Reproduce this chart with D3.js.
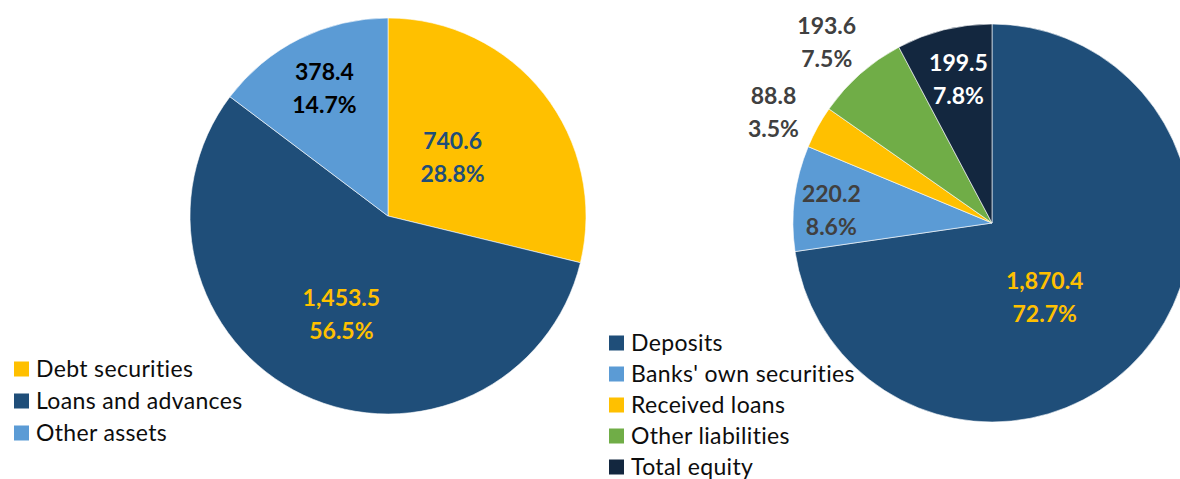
<!DOCTYPE html>
<html>
<head>
<meta charset="utf-8">
<script src="https://d3js.org/d3.v7.min.js"></script>
<style>
  html, body { margin: 0; padding: 0; background: #fff; }
  svg { display: block; font-family: Lato, "Open Sans", sans-serif; font-variant-ligatures: none; }
</style>
</head>
<body>
<div id="container"></div>
<script>
// assets pie
const assetNames  = ["Debt securities", "Loans and advances", "Other assets"];
const assetValues = [740.6, 1453.5, 378.4];
const assetPct    = ["28.8%", "56.5%", "14.7%"];

// liabilities pie
const liabNames  = ["Deposits", "Banks' own securities", "Received loans", "Other liabilities", "Total equity"];
const liabValues = [1870.4, 220.2, 88.8, 193.6, 199.5];
const liabPct    = ["72.7%", "8.6%", "3.5%", "7.5%", "7.8%"];

const colors = {
  "Debt securities": "#FFC000",
  "Loans and advances": "#1F4E79",
  "Other assets": "#5B9BD5",
  "Deposits": "#1F4E79",
  "Banks' own securities": "#5B9BD5",
  "Received loans": "#FFC000",
  "Other liabilities": "#70AD47",
  "Total equity": "#13273F"
};

const width = 1180, height = 479;
const fmt = d3.format(",.1f");

const svg = d3.select('#container').append('svg')
  .attr('width', width).attr('height', height);

// label placement: radius fraction, angle tweak (deg), text colour
function drawPie(cfg) {
  const data = cfg.names.map((n, i) => ({ name: n, value: cfg.values[i], pct: cfg.pct[i], i }));
  const pie = d3.pie().sort(null).value(d => d.value);
  const arc = d3.arc().innerRadius(0).outerRadius(cfg.r);
  const arcs = pie(data);

  const g = svg.append('g').attr('transform', `translate(${cfg.cx},${cfg.cy})`);
  g.selectAll('path').data(arcs).enter().append('path')
    .attr('d', arc)
    .attr('fill', d => colors[d.data.name])
    .attr('stroke', '#fff').attr('stroke-width', 0.6);

  const lab = g.selectAll('g.lab').data(arcs).enter().append('g').attr('class', 'lab')
    .attr('transform', d => {
      const a = (d.startAngle + d.endAngle) / 2 + cfg.shift[d.index] * Math.PI / 180;
      const rr = cfg.r * cfg.frac[d.index];
      return `translate(${Math.sin(a) * rr},${-Math.cos(a) * rr})`;
    });
  lab.append('text').attr('y', -16.5).attr('dy', '0.35em')
    .attr('text-anchor', 'middle').attr('font-weight', 700).attr('font-size', 23)
    .attr('fill', d => cfg.labelColor[d.index])
    .text(d => fmt(d.data.value));
  lab.append('text').attr('y', 16.5).attr('dy', '0.35em')
    .attr('text-anchor', 'middle').attr('font-weight', 700).attr('font-size', 23)
    .attr('fill', d => cfg.labelColor[d.index])
    .text(d => d.data.pct);

  const leg = svg.append('g').attr('transform', `translate(${cfg.lx},${cfg.ly})`);
  const row = leg.selectAll('g').data(cfg.names).enter().append('g')
    .attr('transform', (d, i) => `translate(0,${i * cfg.step})`);
  row.append('rect').attr('x', 0).attr('y', -7.5).attr('width', 15).attr('height', 15)
    .attr('fill', d => colors[d]);
  row.append('text').attr('x', 22).attr('dy', '0.35em')
    .attr('font-size', 23).attr('letter-spacing', 0.35).attr('fill', '#0d0d0d').text(d => d);
}

drawPie({
  names: assetNames, values: assetValues, pct: assetPct,
  cx: 388, cy: 216, r: 198,
  frac: [0.44, 0.55, 0.72], shift: [-4, 0, 0],
  labelColor: ["#1F4E79", "#FFC000", "#000000"],
  lx: 14, ly: 369, step: 32
});

drawPie({
  names: liabNames, values: liabValues, pct: liabPct,
  cx: 992, cy: 223, r: 199,
  frac: [0.46, 0.81, 1.23, 1.23, 0.74], shift: [14, -2.6, -2, -1, 0.8],
  labelColor: ["#FFC000", "#404040", "#404040", "#404040", "#FFFFFF"],
  lx: 609, ly: 343, step: 31
});
</script>
</body>
</html>
